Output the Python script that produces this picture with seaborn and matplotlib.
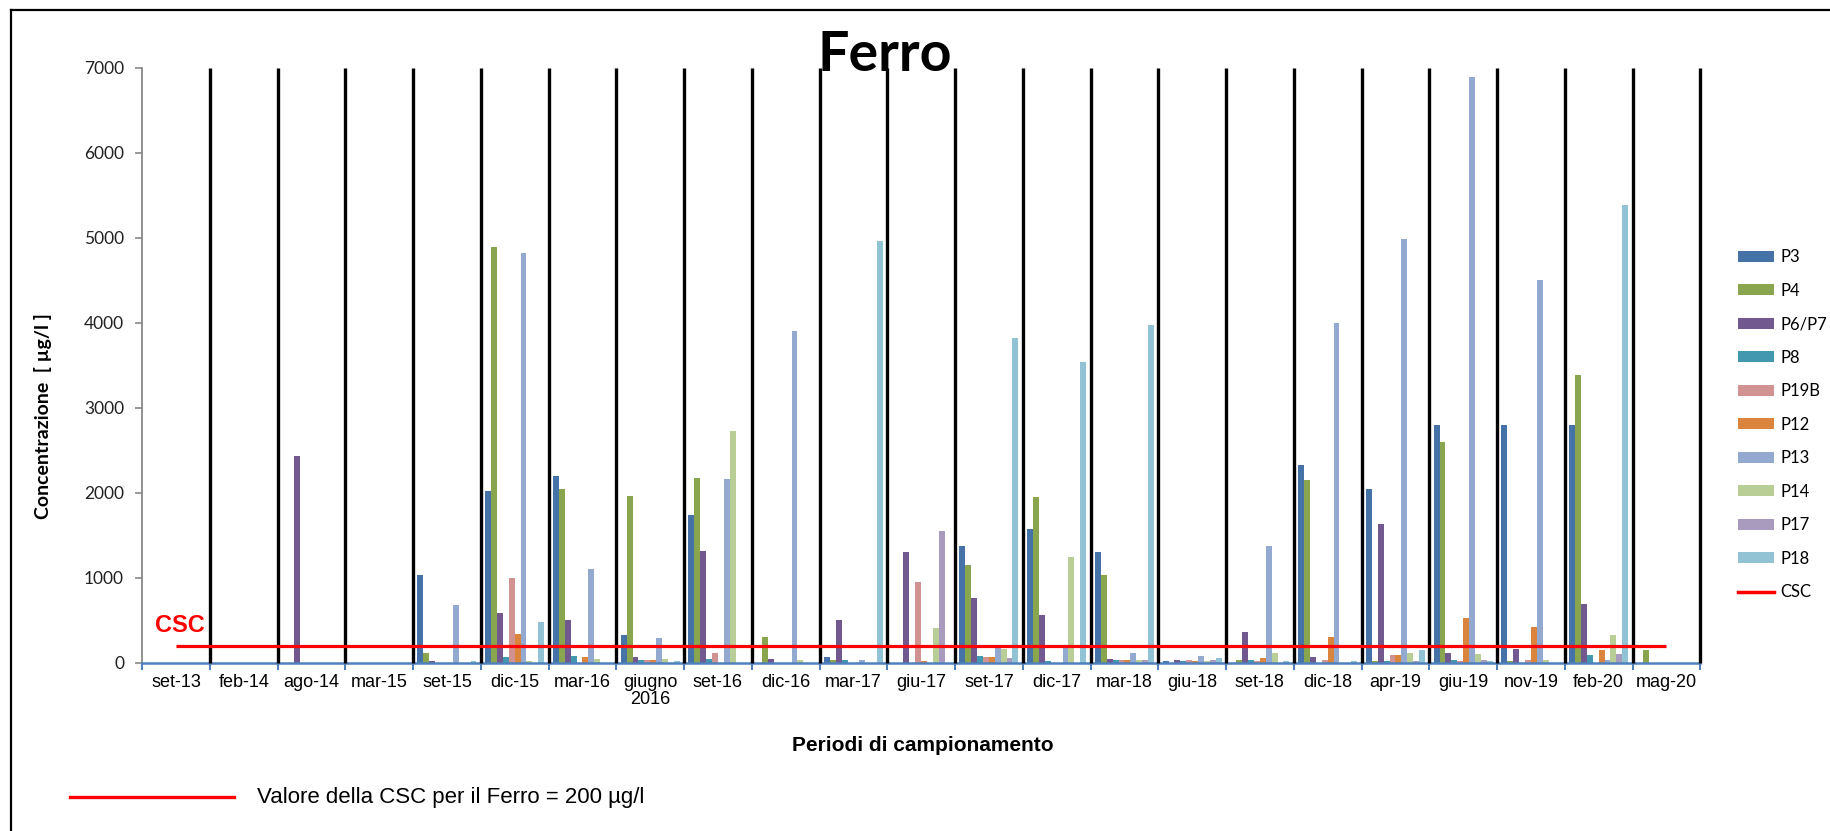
import numpy as np
import pandas as pd
import matplotlib
matplotlib.use("Agg")
import matplotlib.pyplot as plt
import seaborn as sns
from matplotlib.patches import Patch
from matplotlib.lines import Line2D

nan = np.nan

# Sampling periods
categories = ["set-13", "feb-14", "ago-14", "mar-15", "set-15", "dic-15", "mar-16",
              "giugno\n2016", "set-16", "dic-16", "mar-17", "giu-17", "set-17", "dic-17",
              "mar-18", "giu-18", "set-18", "dic-18", "apr-19", "giu-19", "nov-19",
              "feb-20", "mag-20"]

# Iron concentration per well (µg/l); nan = not sampled
P3   = [nan, nan, nan, nan, 1030, 2020, 2200, 325, 1745, nan, 70, nan, 1375, 1575, 1310, 20, nan, 2330, 2050, 2800, 2800, 2800, nan]
P4   = [nan, nan, nan, nan, 120, 4890, 2050, 1965, 2175, 300, 30, nan, 1150, 1955, 1040, nan, 30, 2150, 20, 2600, 20, 3390, 150]
P6P7 = [nan, nan, 2430, nan, 20, 585, 500, 70, 1320, 50, 500, 1300, 765, 560, 50, 30, 370, 70, 1630, 120, 165, 690, nan]
P8   = [nan, nan, nan, nan, nan, 70, 80, 30, 50, nan, 30, nan, 80, 20, 40, 20, 40, nan, 20, 30, nan, 95, nan]
P19B = [nan, nan, nan, nan, nan, 1000, nan, 30, 120, nan, nan, 955, 70, nan, 30, 30, 20, 40, 95, 20, 30, nan, nan]
P12  = [nan, nan, nan, nan, nan, 345, 70, 30, nan, nan, nan, 20, 70, nan, 40, 20, 60, 305, 95, 525, 420, 150, nan]
P13  = [nan, nan, nan, nan, 680, 4820, 1100, 290, 2165, 3900, 30, nan, 190, 190, 120, 80, 1375, 4000, 4990, 6890, 4500, 30, nan]
P14  = [nan, nan, nan, nan, nan, 20, 50, 50, 2730, 30, nan, 410, 165, 1250, 30, 20, 120, nan, 120, 100, 30, 325, nan]
P17  = [nan, nan, nan, nan, nan, nan, nan, nan, nan, nan, nan, 1555, 60, nan, 30, 30, nan, nan, 20, 30, nan, 100, nan]
P18  = [nan, nan, nan, nan, 20, 485, nan, 20, nan, nan, 4960, nan, 3820, 3540, 3975, 60, 20, 20, 150, 20, nan, 5390, nan]

series_names = ["P3", "P4", "P6/P7", "P8", "P19B", "P12", "P13", "P14", "P17", "P18"]
series_values = [P3, P4, P6P7, P8, P19B, P12, P13, P14, P17, P18]
colors = ["#4572A7", "#89A54E", "#71588F", "#4198AF", "#D19392",
          "#DB843D", "#93A9CF", "#B9CD96", "#A99BBD", "#92C3D4"]

# Threshold (CSC) for iron
csc_limit = 200
csc = [csc_limit] * len(categories)

rows = []
for name, vals in zip(series_names, series_values):
    for cat, v in zip(categories, vals):
        rows.append({"Periodo": cat, "Punto": name, "Valore": v})
df = pd.DataFrame(rows).dropna()

palette = dict(zip(series_names, colors))

plt.rcParams["font.family"] = ["Liberation Sans", "DejaVu Sans"]

fig = plt.figure(figsize=(18.31, 8.31), dpi=100)
ax = fig.add_axes([0.0776, 0.2022, 0.851, 0.716])

sns.barplot(data=df, x="Periodo", y="Valore", hue="Punto", order=categories,
            hue_order=series_names, palette=palette, width=0.87, errorbar=None,
            saturation=1, linewidth=0, legend=False, ax=ax, zorder=2)

n = len(categories)
pos = np.arange(n)

# Black separators between sampling periods
ax.vlines(pos + 0.5, 0, 7000, colors="black", linewidth=2.4, zorder=3, clip_on=False)

# CSC threshold line
ax.plot(pos, csc, color="#FF0000", linewidth=2.3, zorder=4, solid_capstyle="butt")
ax.text(-0.31, csc_limit + 100, "CSC", color="#FF0000", fontsize=17,
        fontweight="bold", ha="left", va="bottom", zorder=5)

ax.set_xlim(-0.5, n - 0.5)
ax.set_ylim(0, 7000)
ax.set_yticks(np.arange(0, 7001, 1000))
ax.set_yticklabels([str(v) for v in range(0, 7001, 1000)],
                   fontsize=12.5, family=["Lato", "DejaVu Sans"], color="#222222")

ax.set_xticks(pos)
ax.set_xticklabels(categories, fontsize=13, linespacing=1.0)
ax.set_xticks(np.arange(-0.5, n, 1.0), minor=True)
ax.tick_params(axis="x", which="major", length=0, pad=8)
ax.tick_params(axis="x", which="minor", length=5, width=1.5, color="#4F81BD", direction="out")
ax.tick_params(axis="y", which="major", length=5, width=1.2, color="#888888",
               direction="out", pad=8)

for s in ["top", "right"]:
    ax.spines[s].set_visible(False)
ax.spines["left"].set_color("#888888")
ax.spines["left"].set_linewidth(1.3)
ax.spines["bottom"].set_color("#4F81BD")
ax.spines["bottom"].set_linewidth(1.8)
ax.grid(False)

ax.set_xlabel("Periodi di campionamento", fontsize=15, fontweight="bold")
ax.xaxis.set_label_coords(0.501, -0.122)
ax.set_ylabel("Concentrazione  [ µg/l ]", fontsize=14, fontweight="bold",
              family=["Lato", "DejaVu Sans"])
ax.yaxis.set_label_coords(-0.058, 0.415)

fig.text(0.4833, 0.934, "Ferro", ha="center", va="center", fontsize=40,
         fontweight="bold", family=["Lato", "DejaVu Sans"])

# Legend
handles = [Patch(facecolor=palette[s], edgecolor="none") for s in series_names]
handles.append(Line2D([0], [0], color="#FF0000", linewidth=2.5))
labels = series_names + ["CSC"]
fig.legend(handles, labels, loc="center left", bbox_to_anchor=(0.9445, 0.489),
           frameon=False, borderpad=0, handlelength=2.2, handleheight=0.6,
           handletextpad=0.35, labelspacing=1.05,
           prop={"family": ["Lato", "DejaVu Sans"], "size": 12})

# Note below the chart
fig.add_artist(Line2D([70 / 1831, 234 / 1831], [0.0409, 0.0409], color="#FF0000",
                      linewidth=2.4, transform=fig.transFigure))
fig.text(257 / 1831, 0.0409, "Valore della CSC per il Ferro = 200 µg/l", ha="left",
         va="center", fontsize=16, family=["Liberation Sans", "DejaVu Sans"])

# Outer frame (top and left edges)
fig.add_artist(Line2D([11 / 1831, 1.0], [0.988, 0.988], color="black", linewidth=1.6,
                      transform=fig.transFigure))
fig.add_artist(Line2D([11 / 1831, 11 / 1831], [0.0, 0.988], color="black", linewidth=1.6,
                      transform=fig.transFigure))

fig.savefig("out.png", dpi=100)
